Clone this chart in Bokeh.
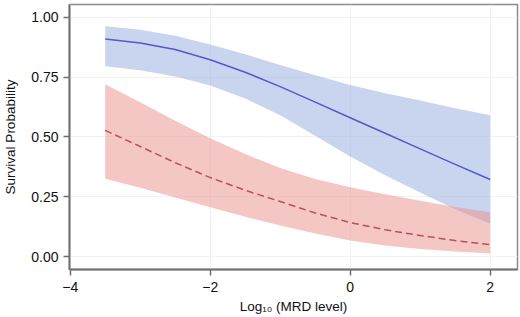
from bokeh.plotting import figure
from bokeh.models import FixedTicker, NumeralTickFormatter, Range1d, ColumnDataSource
from bokeh.embed import file_html
from bokeh.resources import INLINE

# Data
log_mrd = [-3.5, -3.0, -2.5, -2.0, -1.5, -1.0, -0.5, 0.0, 0.5, 1.0, 1.5, 2.0]

blue_mid = [0.909, 0.892, 0.865, 0.822, 0.770, 0.710, 0.645, 0.580, 0.515, 0.450, 0.385, 0.322]
blue_hi = [0.962, 0.948, 0.922, 0.886, 0.845, 0.800, 0.757, 0.717, 0.682, 0.652, 0.620, 0.590]
blue_lo = [0.795, 0.778, 0.752, 0.715, 0.660, 0.590, 0.505, 0.418, 0.340, 0.268, 0.198, 0.137]

red_mid = [0.527, 0.460, 0.392, 0.330, 0.277, 0.230, 0.182, 0.142, 0.112, 0.088, 0.067, 0.050]
red_hi = [0.720, 0.645, 0.567, 0.494, 0.428, 0.370, 0.324, 0.290, 0.260, 0.233, 0.207, 0.185]
red_lo = [0.325, 0.287, 0.247, 0.206, 0.166, 0.130, 0.096, 0.067, 0.046, 0.032, 0.021, 0.013]

x_ticks = [-4, -2, 0, 2]
y_ticks = [0.0, 0.25, 0.5, 0.75, 1.0]

src = ColumnDataSource(dict(x=log_mrd, bm=blue_mid, bh=blue_hi, bl=blue_lo,
                            rm=red_mid, rh=red_hi, rl=red_lo))

p = figure(width=520, height=317, output_backend="svg", toolbar_location=None,
           x_range=Range1d(-4.01, 2.39), y_range=Range1d(-0.054, 1.053),
           min_border_left=65, min_border_right=3, min_border_top=4, min_border_bottom=48)

p.background_fill_color = "white"
p.border_fill_color = "white"
p.outline_line_color = "#8c8c8c"
p.outline_line_width = 1.5

# Bands
p.varea(x="x", y1="bl", y2="bh", source=src, fill_color="#93acdf", fill_alpha=0.5)
p.varea(x="x", y1="rl", y2="rh", source=src, fill_color="#eb8f8a", fill_alpha=0.5)

# Lines
p.line(x="x", y="bm", source=src, line_color="#5558c8", line_width=1.5, line_join="round")
p.line(x="x", y="rm", source=src, line_color="#b5525e", line_width=1.5, line_dash="7 4",
       line_join="round")

# Axes
p.xaxis.ticker = FixedTicker(ticks=x_ticks)
p.yaxis.ticker = FixedTicker(ticks=y_ticks)
p.yaxis.formatter = NumeralTickFormatter(format="0.00")
p.xaxis.axis_label = "Log\u2081\u2080 (MRD level)"
p.yaxis.axis_label = "Survival Probability"

for ax in (p.xaxis[0], p.yaxis[0]):
    ax.axis_line_color = "#707070"
    ax.axis_line_width = 2
    ax.major_tick_line_color = "#707070"
    ax.major_tick_line_width = 1.5
    ax.major_tick_out = 6
    ax.major_tick_in = 0
    ax.minor_tick_line_color = None
    ax.major_label_text_font = "Liberation Sans"
    ax.major_label_text_font_size = "14px"
    ax.major_label_text_color = "#111111"
    ax.axis_label_text_font = "Liberation Sans"
    ax.axis_label_text_font_size = "13.5px"
    ax.axis_label_text_font_style = "normal"
    ax.axis_label_text_color = "#111111"

p.xaxis.major_label_standoff = 6
p.xaxis.axis_label_standoff = 4
p.yaxis.major_label_standoff = 5
p.yaxis.axis_label_standoff = 10

p.xgrid.grid_line_color = "#f2f2f2"
p.ygrid.grid_line_color = "#f2f2f2"
p.xgrid.grid_line_width = 1
p.ygrid.grid_line_width = 1

open("out.html", "w").write(file_html(p, INLINE))
